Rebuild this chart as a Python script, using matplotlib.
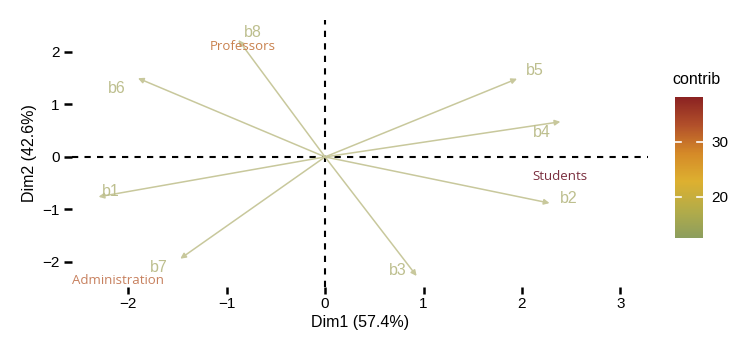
import numpy as np
import matplotlib
matplotlib.use("Agg")
import matplotlib.pyplot as plt
from matplotlib.colors import LinearSegmentedColormap, Normalize
from matplotlib.colorbar import ColorbarBase

plt.rcParams['font.family'] = ['Liberation Sans', 'DejaVu Sans']

# variable arrows (Dim1, Dim2)
var_names = ["b1", "b2", "b3", "b4", "b5", "b6", "b7", "b8"]
dim1 = [-2.30, 2.28, 0.93, 2.39, 1.95, -1.90, -1.47, -0.88]
dim2 = [-0.76, -0.88, -2.27, 0.67, 1.49, 1.50, -1.94, 2.23]
# where the variable labels sit
lab_x = [-2.18, 2.48, 0.74, 2.20, 2.13, -2.12, -1.69, -0.73]
lab_y = [-0.65, -0.80, -2.17, 0.46, 1.64, 1.31, -2.11, 2.38]

# group labels
groups = ["Professors", "Administration", "Students"]
group_x = [-0.84, -2.10, 2.39]
group_y = [2.10, -2.36, -0.38]
group_cols = ["#C9824F", "#C7805E", "#7A2E3E"]

contrib_min, contrib_max = 12.5, 38.2
contrib_ticks = [20, 30]

arrow_col = "#C8C89C"
label_col = "#BDBF8E"

fig = plt.figure(figsize=(7.56, 3.46), dpi=100)
ax = fig.add_axes([72 / 756, 59 / 346, 576 / 756, 267 / 346])

ax.axhline(0, color="black", linestyle=(0, (3, 3)), lw=1.5, zorder=1)
ax.axvline(0, color="black", linestyle=(0, (3, 3)), lw=1.5, zorder=1)

for x, y in zip(dim1, dim2):
    ax.annotate("", xy=(x, y), xytext=(0, 0),
                arrowprops=dict(arrowstyle="-|>", color=arrow_col, lw=1.1,
                                mutation_scale=8, shrinkA=0, shrinkB=0),
                zorder=2)
for name, x, y in zip(var_names, lab_x, lab_y):
    ax.text(x, y, name, color=label_col, fontsize=11.5, ha="center", va="center")

for g, x, y, c in zip(groups, group_x, group_y, group_cols):
    ax.text(x, y, g, color=c, fontsize=9.5, ha="center", va="center",
            family=["Open Sans", "DejaVu Sans"])

ax.set_xlim(-2.57, 3.28)
ax.set_ylim(-2.48, 2.61)
ax.set_xticks([-2, -1, 0, 1, 2, 3])
ax.set_yticks([-2, -1, 0, 1, 2])
for s in ax.spines.values():
    s.set_visible(False)
ax.tick_params(axis="x", length=5, width=1.8, labelsize=11, pad=2)
ax.tick_params(axis="y", length=6, width=1.8, labelsize=11, pad=3)
ax.set_xlabel("Dim1 (57.4%)", fontsize=11.5, labelpad=3)
ax.set_ylabel("Dim2 (42.6%)", fontsize=11.5, labelpad=4)

# colour bar
cmap = LinearSegmentedColormap.from_list(
    "contrib", ["#8C9E5E", "#B4AC48", "#DDB030", "#D58A28", "#B2502A", "#8B2222"])
cax = fig.add_axes([675 / 756, 108 / 346, 28 / 756, 141 / 346])
cb = ColorbarBase(cax, cmap=cmap, norm=Normalize(contrib_min, contrib_max),
                  orientation="vertical")
cb.outline.set_visible(False)
cb.set_ticks(contrib_ticks)
cax.tick_params(length=0, labelsize=11, pad=6)
for t in contrib_ticks:
    cax.plot([0, 0.22], [t, t], color="white", lw=1.2, transform=cax.get_yaxis_transform())
    cax.plot([0.78, 1], [t, t], color="white", lw=1.2, transform=cax.get_yaxis_transform())
fig.text(672 / 756, 1 - 80 / 346, "contrib", fontsize=11.5, ha="left", va="center")

fig.savefig("out.png", dpi=100, facecolor="white")
